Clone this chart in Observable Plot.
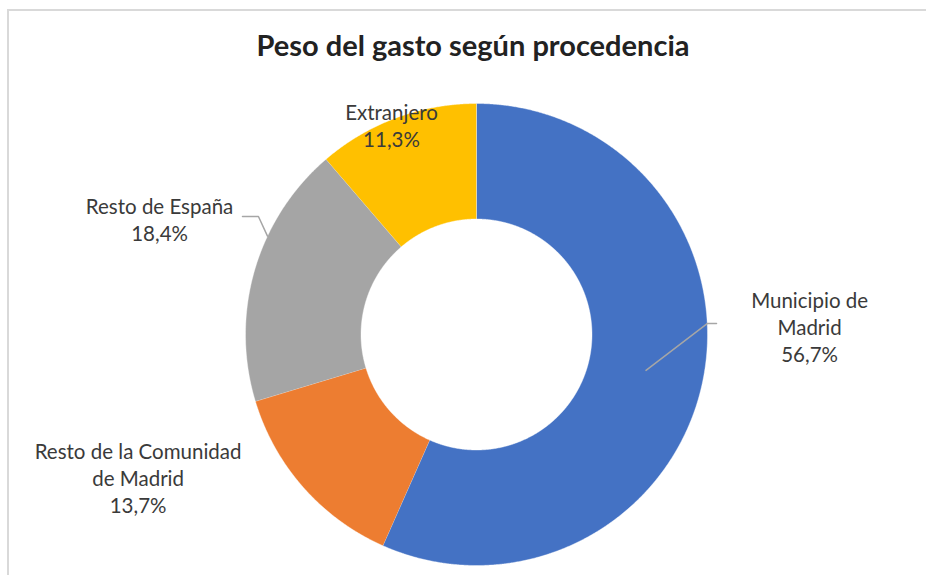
<!DOCTYPE html>
<html><head><meta charset="utf-8">
<script src="https://cdn.jsdelivr.net/npm/d3@7"></script>
<script src="https://cdn.jsdelivr.net/npm/@observablehq/plot@0.6"></script>
<style>
body{margin:0;background:#fff;}
#wrap{position:relative;width:926px;height:575px;overflow:hidden;background:#fff;font-family:Lato,"Open Sans",sans-serif;}
#frame{position:absolute;left:7px;top:9px;right:-5px;bottom:-5px;border-top:2px solid #d9d9d9;border-left:2px solid #d9d9d9;}
#title{position:absolute;left:0;top:28px;width:946px;line-height:34px;text-align:center;font-weight:700;font-size:29px;color:#222;}
#chart{position:absolute;left:0;top:80px;}
</style></head>
<body><div id="wrap"><div id="frame"></div><div id="title">Peso del gasto según procedencia</div><div id="chart"></div></div>
<script>
// ---- data ----
const categories = ["Municipio de Madrid", "Resto de la Comunidad de Madrid", "Resto de España", "Extranjero"];
const values = [56.7, 13.7, 18.4, 11.3];
const labelLines = [["Municipio de", "Madrid"], ["Resto de la Comunidad", "de Madrid"], ["Resto de España"], ["Extranjero"]];

// ---- style / layout ----
const colors = ["#4472C4", "#ED7D31", "#A5A5A5", "#FFC000"];
const W = 926, H = 495, R = 231, cx = 476, cy = 254, innerR = 0.5;
// label anchors in radius units (Excel manual placement)
const labelLayout = [
  {x: 1.442, y: 0.035, leader: {t: 0.5, r: 0.75, elbow: [1.0, 0.048], end: [1.039, 0.048]}},
  {x: -1.465, y: -0.619},
  {x: -1.372, y: 0.50, leader: {t: 0.635, r: 1.0, elbow: [-0.944, 0.511], end: [-1.013, 0.511]}},
  {x: -0.368, y: 0.907}
];

const data = categories.map((c, i) => ({name: c, value: values[i]}));
const arcs = d3.pie().sort(null).value(d => d.value).startAngle(0).endAngle(2 * Math.PI)(data);

const polar = (a, r) => [r * Math.sin(a), r * Math.cos(a)];
const slicePts = [];
arcs.forEach(a => {
  const n = Math.max(2, Math.ceil((a.endAngle - a.startAngle) / 0.005));
  const pts = [];
  for (let k = 0; k <= n; k++) pts.push(polar(a.startAngle + (a.endAngle - a.startAngle) * k / n, 1));
  for (let k = n; k >= 0; k--) pts.push(polar(a.startAngle + (a.endAngle - a.startAngle) * k / n, innerR));
  pts.forEach(([x, y]) => slicePts.push({name: a.data.name, x, y}));
});

const fmt = v => v.toFixed(1).replace(".", ",") + "%";
const labels = arcs.map((a, i) => ({
  name: a.data.name,
  x: labelLayout[i].x, y: labelLayout[i].y,
  text: [...labelLines[i], fmt(a.data.value)].join("\n")
}));

const leaderPts = [];
arcs.forEach((a, i) => {
  const L = labelLayout[i].leader;
  if (!L) return;
  const ang = a.startAngle + (a.endAngle - a.startAngle) * L.t;
  const [sx, sy] = polar(ang, L.r);
  leaderPts.push({name: a.data.name, x: sx, y: sy});
  leaderPts.push({name: a.data.name, x: L.elbow[0], y: L.elbow[1]});
  leaderPts.push({name: a.data.name, x: L.end[0], y: L.end[1]});
});

const chart = Plot.plot({
  width: W, height: H,
  marginTop: 0, marginRight: 0, marginBottom: 0, marginLeft: 0,
  x: {domain: [-cx / R, (W - cx) / R], axis: null},
  y: {domain: [-(H - cy) / R, cy / R], axis: null},
  color: {domain: categories, range: colors},
  style: {background: "transparent", overflow: "visible"},
  marks: [
    Plot.line(slicePts, {x: "x", y: "y", z: "name", fill: "name", stroke: "white", strokeWidth: 0.4, curve: "linear"}),
    Plot.line(leaderPts, {x: "x", y: "y", z: "name", stroke: "#a6a6a6", strokeWidth: 1.5}),
    Plot.text(labels, {x: "x", y: "y", text: "text", textAnchor: "middle", lineAnchor: "middle",
      fontSize: 20.5, lineHeight: 1.32, fill: "#3a3a3a", fontFamily: "Lato, 'Open Sans', sans-serif"})
  ]
});
document.getElementById("chart").appendChild(chart);
</script>
</body></html>
